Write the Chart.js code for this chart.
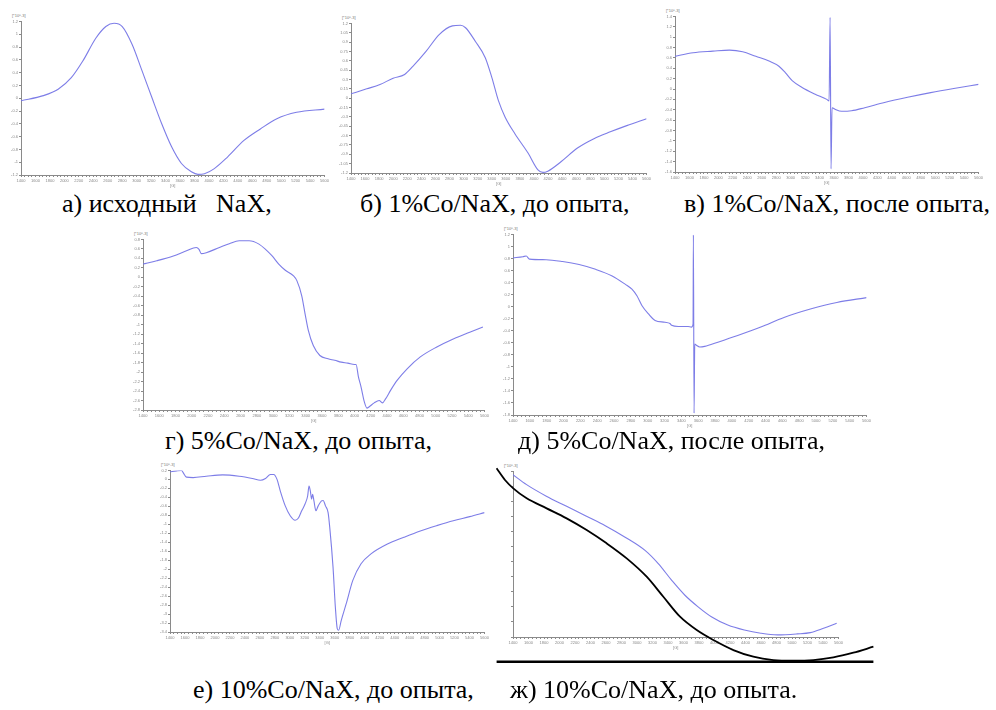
<!DOCTYPE html>
<html>
<head>
<meta charset="utf-8">
<script src="https://cdn.jsdelivr.net/npm/chart.js@4.4.0/dist/chart.umd.min.js"></script>
<style>
  body { margin: 0; background: #fff; width: 996px; height: 710px; position: relative; overflow: hidden; }
  .panel { position: absolute; }
  .cap { position: absolute; font-family: "Times New Roman", "Liberation Serif", "DejaVu Serif", serif; font-size: 26px; font-weight: normal; color: #000; white-space: pre; line-height: 1; }
  .unit { position: absolute; font-family: "Liberation Sans", Arial, sans-serif; font-size: 4px; color: #777; white-space: pre; }
</style>
</head>
<body>

<script>
// EPR spectra, field in G, intensity in [*10^-3]

// а) исходный NaX
const fieldA = [1400, 1709, 1914, 2096, 2255, 2437, 2574, 2688, 2801, 2938, 3074, 3211, 3347, 3484, 3620, 3757, 3848, 3939, 4075, 4257, 4485, 4712, 4940, 5213, 5600];
const valueA = [-0.04, 0.04, 0.14, 0.32, 0.58, 0.94, 1.12, 1.17, 1.12, 0.84, 0.43, 0.01, -0.40, -0.76, -1.02, -1.15, -1.19, -1.18, -1.10, -0.92, -0.66, -0.48, -0.32, -0.22, -0.17];

// б) 1%Co/NaX, до опыта
const fieldB = [1400, 1624, 1812, 1999, 2162, 2279, 2466, 2653, 2841, 2957, 3028, 3168, 3308, 3402, 3495, 3589, 3729, 3916, 4057, 4127, 4197, 4384, 4618, 4852, 5085, 5319, 5600];
const valueB = [0.07, 0.15, 0.22, 0.32, 0.38, 0.51, 0.75, 1.02, 1.16, 1.17, 1.13, 0.91, 0.65, 0.33, -0.04, -0.30, -0.57, -0.88, -1.15, -1.19, -1.17, -1.02, -0.80, -0.65, -0.54, -0.44, -0.33];

// в) 1%Co/NaX, после опыта
const fieldC = [1400, 1651, 1925, 2153, 2336, 2518, 2701, 2838, 2929, 3021, 3158, 3340, 3500, 3532, 3546, 3559, 3573, 3614, 3705, 3842, 4025, 4299, 4618, 4938, 5257, 5600];
const valueC = [0.63, 0.70, 0.73, 0.75, 0.72, 0.63, 0.54, 0.44, 0.31, 0.16, 0.03, -0.10, -0.20, -0.23, 1.38, -1.54, -0.36, -0.39, -0.43, -0.42, -0.36, -0.26, -0.16, -0.07, 0.01, 0.09];

// г) 5%Co/NaX, до опыта
const fieldD = [1400, 1570, 1773, 1935, 2056, 2089, 2117, 2178, 2340, 2461, 2583, 2704, 2826, 2907, 2988, 3069, 3150, 3251, 3292, 3352, 3393, 3433, 3494, 3575, 3676, 3757, 3838, 3919, 4000, 4020, 4049, 4081, 4122, 4154, 4182, 4243, 4304, 4344, 4385, 4446, 4527, 4648, 4810, 5013, 5215, 5418, 5580];
const valueD = [0.28, 0.35, 0.45, 0.56, 0.63, 0.59, 0.50, 0.52, 0.63, 0.71, 0.77, 0.77, 0.70, 0.59, 0.45, 0.28, 0.15, 0.03, -0.07, -0.39, -0.77, -1.12, -1.44, -1.65, -1.72, -1.75, -1.79, -1.81, -1.84, -1.84, -2.10, -2.31, -2.63, -2.76, -2.73, -2.65, -2.60, -2.65, -2.56, -2.38, -2.17, -1.93, -1.68, -1.47, -1.30, -1.16, -1.05];

// д) 5%Co/NaX, после опыта
const fieldE = [1400, 1518, 1557, 1596, 1793, 1989, 2185, 2381, 2578, 2735, 2813, 2872, 2931, 3009, 3088, 3206, 3264, 3284, 3363, 3480, 3520, 3539, 3543, 3551, 3559, 3578, 3618, 3677, 3834, 4069, 4344, 4619, 4933, 5247, 5600];
const valueE = [0.81, 0.83, 0.84, 0.79, 0.78, 0.75, 0.70, 0.62, 0.51, 0.37, 0.29, 0.18, 0.02, -0.12, -0.23, -0.26, -0.28, -0.31, -0.33, -0.33, -0.34, -0.29, 1.19, -1.77, -0.62, -0.64, -0.67, -0.66, -0.59, -0.48, -0.34, -0.18, -0.04, 0.07, 0.15];

// е) 10%Co/NaX, до опыта
const fieldF = [1400, 1488, 1554, 1576, 1620, 1708, 1884, 2104, 2324, 2500, 2609, 2675, 2741, 2785, 2829, 2873, 2939, 3005, 3071, 3115, 3159, 3203, 3238, 3256, 3274, 3291, 3304, 3322, 3348, 3379, 3423, 3445, 3476, 3511, 3533, 3577, 3608, 3634, 3652, 3687, 3753, 3841, 3951, 4083, 4303, 4523, 4742, 4962, 5182, 5402, 5600];
const valueF = [0.17, 0.19, 0.20, 0.15, 0.05, 0.04, 0.07, 0.10, 0.07, 0.02, -0.02, 0.02, 0.11, 0.11, 0.00, -0.26, -0.59, -0.81, -0.91, -0.86, -0.70, -0.55, -0.37, -0.15, -0.26, -0.44, -0.33, -0.48, -0.70, -0.59, -0.48, -0.47, -0.59, -0.74, -1.07, -1.96, -2.85, -3.33, -3.36, -3.14, -2.77, -2.25, -1.88, -1.66, -1.44, -1.29, -1.15, -1.03, -0.92, -0.83, -0.74];

// ж) 10%Co/NaX, до опыта
const fieldG = [1400, 1575, 1830, 2085, 2341, 2596, 2852, 3107, 3277, 3448, 3618, 3788, 3959, 4171, 4384, 4597, 4810, 5065, 5236, 5406, 5576];
const valueG = [3490, 3165, 2785, 2459, 2133, 1806, 1426, 991, 556, 13, -476, -857, -1183, -1455, -1618, -1726, -1781, -1748, -1705, -1563, -1400];

// black hand-drawn curve and base line laid over ж (same units)
const fieldSketch = [1191, 1298, 1404, 1575, 1830, 2085, 2341, 2596, 2852, 3107, 3320, 3533, 3746, 3959, 4214, 4469, 4725, 4980, 5236, 5491, 5746, 6002];
const valueSketch = [3654, 3274, 3002, 2676, 2350, 2024, 1643, 1209, 719, 122, -531, -1183, -1618, -1944, -2270, -2487, -2596, -2618, -2596, -2509, -2357, -2161];
const fieldBase = [1191, 6002];
const valueBase = [-2650, -2650];

const captions = [
  ['а) исходный   NaX,', 62, 191],
  ['б) 1%Co/NaX, до опыта,', 360, 191],
  ['в) 1%Co/NaX, после опыта,', 684, 191],
  ['г) 5%Co/NaX, до опыта,', 165, 428],
  ['д) 5%Co/NaX, после опыта,', 518, 428],
  ['е) 10%Co/NaX, до опыта,', 193, 677],
  ['ж) 10%Co/NaX, до опыта.', 510, 677]
];

const lineColor = 'rgba(118,118,230,0.95)';
const axisColor = '#8a8a8a';
const tickFont = { family: 'Liberation Sans', size: 4 };
const Y_W = 16, X_H = 13, PAD = 2;

function toPoints(xs, ys) {
  return xs.map((x, i) => ({ x: x, y: ys[i] }));
}

function addEl(cls, text, left, top) {
  const d = document.createElement('div');
  d.className = cls;
  d.textContent = text;
  d.style.left = left + 'px';
  d.style.top = top + 'px';
  document.body.appendChild(d);
  return d;
}

function makePanel(xs, ys, p) {
  const box = document.createElement('div');
  box.className = 'panel';
  box.style.left = (p.left - Y_W) + 'px';
  box.style.top = (p.top - PAD) + 'px';
  box.style.width = (p.right - p.left + Y_W + PAD) + 'px';
  box.style.height = (p.bottom - p.top + PAD + X_H) + 'px';
  const cv = document.createElement('canvas');
  box.appendChild(cv);
  document.body.appendChild(box);

  addEl('unit', '[*10^-3]', p.left - 9, p.top - 7);

  new Chart(cv, {
    type: 'line',
    data: {
      datasets: [{
        data: toPoints(xs, ys),
        borderColor: lineColor,
        borderWidth: 1.1,
        pointRadius: 0,
        cubicInterpolationMode: 'monotone',
        fill: false
      }]
    },
    options: {
      responsive: true,
      maintainAspectRatio: false,
      animation: false,
      layout: { padding: { top: PAD, right: PAD, left: 0, bottom: 0 } },
      plugins: { legend: { display: false }, tooltip: { enabled: false } },
      scales: {
        x: {
          type: 'linear', min: 1400, max: 5600,
          afterFit: s => { s.height = X_H; },
          border: { color: axisColor, width: 1 },
          grid: { drawOnChartArea: false, tickLength: 2, color: axisColor },
          ticks: {
            stepSize: 50, autoSkip: false, maxRotation: 0, padding: 1,
            font: tickFont, color: '#888',
            callback: v => (v % 200 === 0 ? v : '')
          },
          title: { display: true, text: '[G]', font: tickFont, color: '#888', padding: 0 }
        },
        y: {
          type: 'linear', min: p.yMin, max: p.yMax,
          afterFit: s => { s.width = Y_W; },
          border: { color: axisColor, width: 1 },
          grid: { drawOnChartArea: false, tickLength: 2, color: axisColor },
          ticks: {
            stepSize: p.yStep, autoSkip: false, padding: 1,
            font: tickFont, color: '#888',
            callback: v => (Math.abs(v / p.yStep - Math.round(v / p.yStep)) < 1e-6 ? +v.toFixed(2) : '')
          }
        }
      }
    }
  });
}

makePanel(fieldA, valueA, { left: 21, top: 20, right: 328, bottom: 175, yMin: -1.2, yMax: 1.2, yStep: 0.2 });
makePanel(fieldB, valueB, { left: 351, top: 22, right: 650, bottom: 173, yMin: -1.2, yMax: 1.2, yStep: 0.15 });
makePanel(fieldC, valueC, { left: 675, top: 15, right: 982, bottom: 172, yMin: -1.6, yMax: 1.4, yStep: 0.2 });
makePanel(fieldD, valueD, { left: 143, top: 238, right: 488, bottom: 410, yMin: -2.8, yMax: 0.8, yStep: 0.2 });
makePanel(fieldE, valueE, { left: 513, top: 233, right: 870, bottom: 415, yMin: -1.8, yMax: 1.2, yStep: 0.2 });
makePanel(fieldF, valueF, { left: 170, top: 469, right: 488, bottom: 632, yMin: -3.4, yMax: 0.2, yStep: 0.2 });
makePanel(fieldG, valueG, { left: 513, top: 470, right: 842, bottom: 637, yMin: -1850, yMax: 3600, yStep: 500 });

// overlay with the black curve, same units as panel ж
const ov = document.createElement('div');
ov.className = 'panel';
ov.style.left = '480px'; ov.style.top = '440px';
ov.style.width = '410px'; ov.style.height = '240px';
const ovc = document.createElement('canvas');
ov.appendChild(ovc);
document.body.appendChild(ov);

new Chart(ovc, {
  type: 'line',
  data: {
    datasets: [
      { data: toPoints(fieldSketch, valueSketch), borderColor: '#000', borderWidth: 1.8, pointRadius: 0, cubicInterpolationMode: 'monotone' },
      { data: toPoints(fieldBase, valueBase), borderColor: '#000', borderWidth: 2.4, pointRadius: 0 }
    ]
  },
  options: {
    responsive: true,
    maintainAspectRatio: false,
    animation: false,
    layout: { padding: 0 },
    plugins: { legend: { display: false }, tooltip: { enabled: false } },
    scales: {
      x: { type: 'linear', min: 979, max: 6214, display: false },
      y: { type: 'linear', min: -3246, max: 4578, display: false }
    }
  }
});

captions.forEach(c => addEl('cap', c[0], c[1], c[2]));
</script>
</body>
</html>
